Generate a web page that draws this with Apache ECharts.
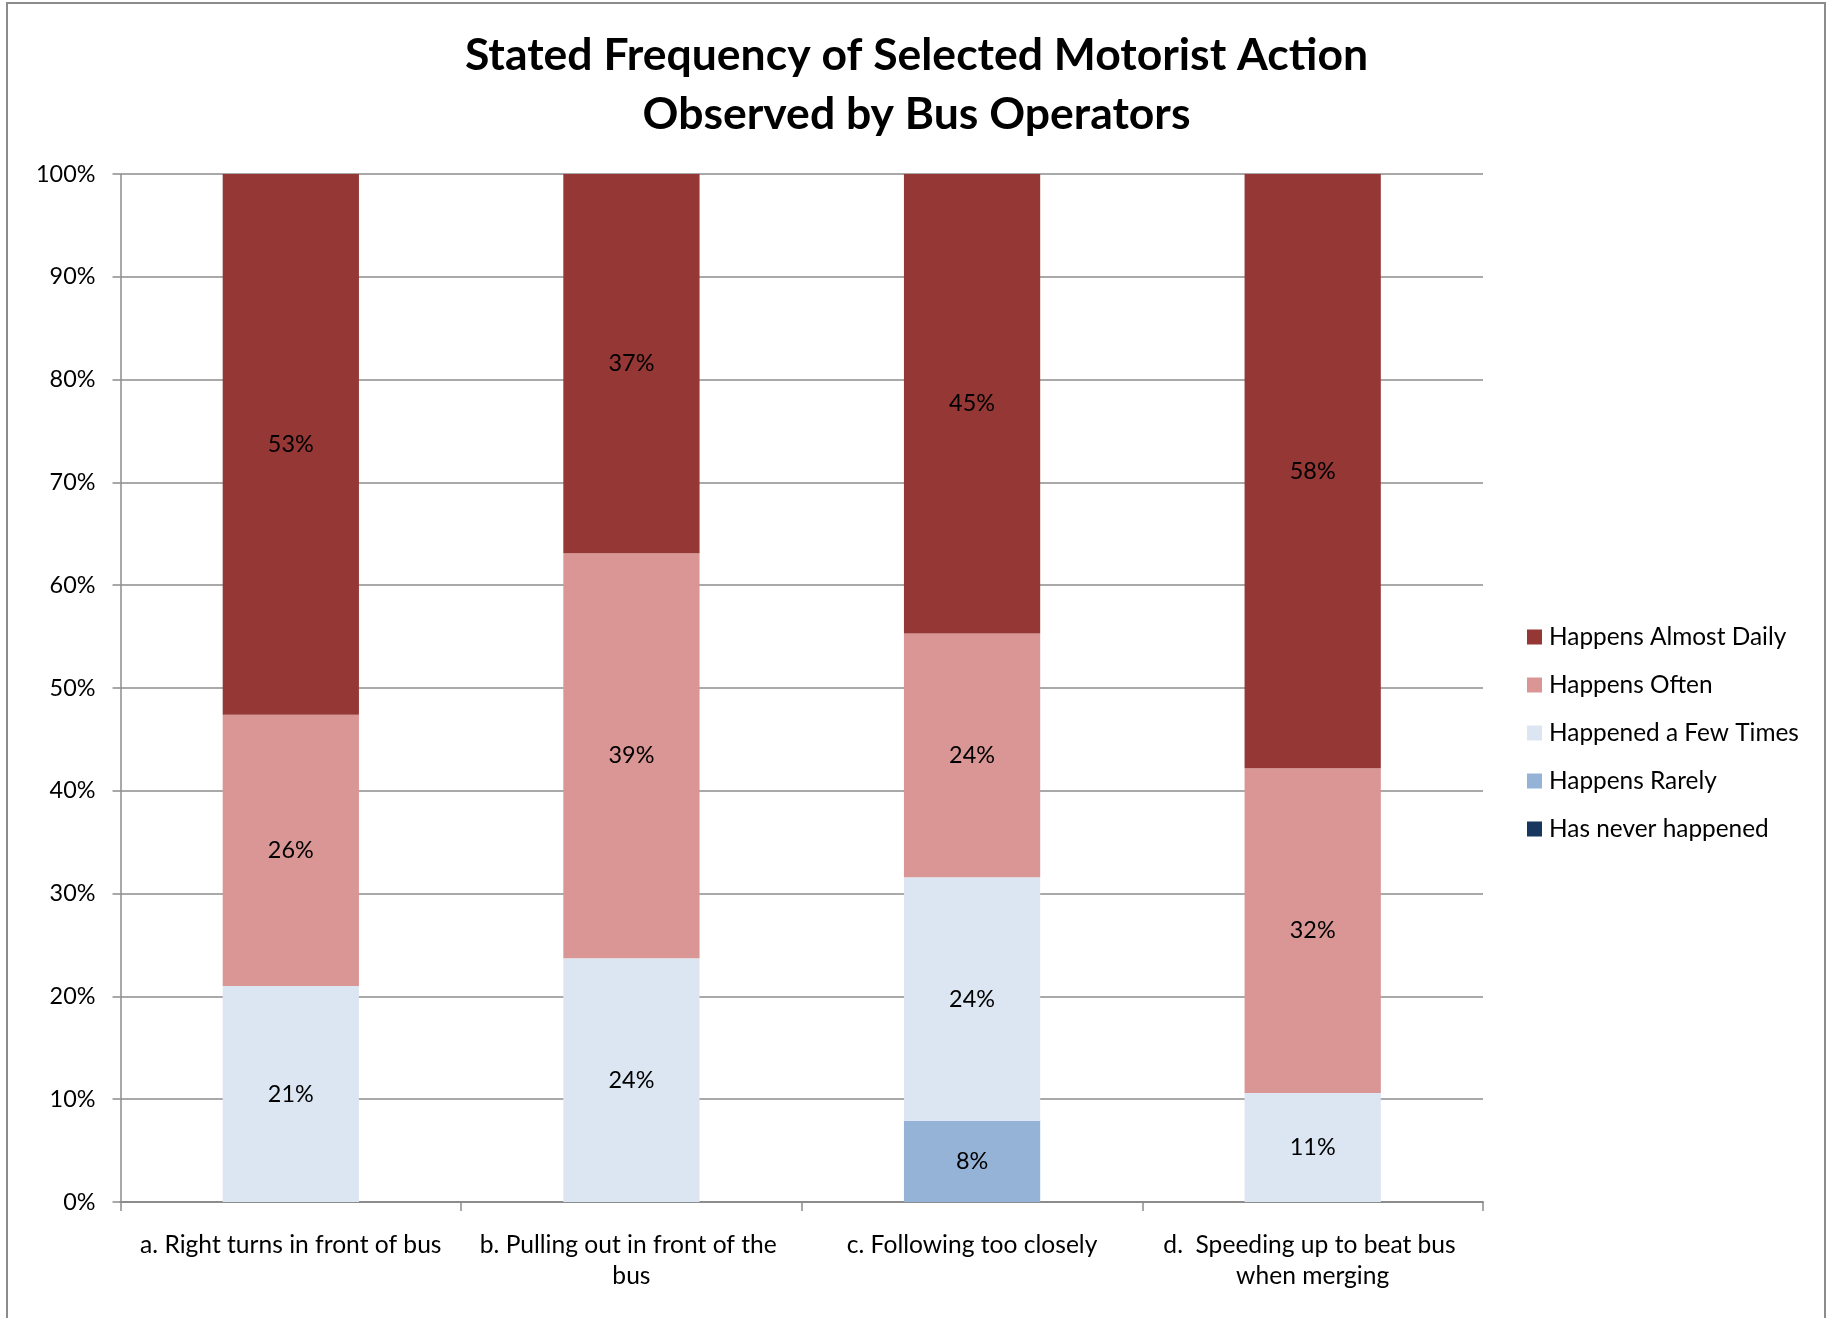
<!DOCTYPE html>
<html>
<head>
<meta charset="utf-8">
<script src="https://cdn.jsdelivr.net/npm/echarts@6/dist/echarts.min.js"></script>
<style>html,body{margin:0;padding:0;background:#fff;}#c{width:1833px;height:1318px;}</style>
</head>
<body>
<div id="c"></div>
<script>
const titleText = 'Stated Frequency of Selected Motorist Action\nObserved by Bus Operators';
const categories = ['a. Right turns in front of bus', 'b. Pulling out in front of the bus', 'c. Following too closely', 'd.  Speeding up to beat bus when merging'];
const yTicks = [0, 10, 20, 30, 40, 50, 60, 70, 80, 90, 100];
const neverHappened = [0, 0, 0, 0];
const happensRarely = [0, 0, 7.9, 0];
const happenedFewTimes = [21.0, 23.7, 23.7, 10.6];
const happensOften = [26.4, 39.4, 23.7, 31.6];
const happensAlmostDaily = [52.6, 36.9, 44.7, 57.8];
const seriesNames = ['Has never happened', 'Happens Rarely', 'Happened a Few Times', 'Happens Often', 'Happens Almost Daily'];
const seriesColors = ['#17375E', '#95B3D7', '#DCE6F2', '#D99694', '#953735'];
const legendOrder = ['Happens Almost Daily', 'Happens Often', 'Happened a Few Times', 'Happens Rarely', 'Has never happened'];

const FONT = 'Lato';
const seriesData = [neverHappened, happensRarely, happenedFewTimes, happensOften, happensAlmostDaily];
const chart = echarts.init(document.getElementById('c'), null, {renderer: 'canvas'});
chart.setOption({
  backgroundColor: '#fff',
  animation: false,
  textStyle: {fontFamily: FONT},
  title: {
    text: titleText,
    left: 'center',
    top: 26,
    padding: 0,
    textStyle: {fontFamily: FONT, fontSize: 44.5, fontWeight: 'bold', color: '#000', lineHeight: 59}
  },
  graphic: [{
    type: 'rect',
    shape: {x: 7, y: 3, width: 1818, height: 1330},
    style: {fill: 'none', stroke: '#8c8c8c', lineWidth: 2},
    silent: true
  }],
  legend: {
    orient: 'vertical',
    left: 1522,
    top: 619,
    itemWidth: 15,
    itemHeight: 15,
    itemGap: 22,
    icon: 'rect',
    data: legendOrder,
    textStyle: {fontFamily: FONT, fontSize: 24.4, color: '#000', lineHeight: 26, padding: [0, 0, 0, 2]}
  },
  grid: {left: 120.5, right: 350, top: 174, bottom: 116, containLabel: false},
  xAxis: {
    type: 'category',
    data: categories,
    axisLine: {lineStyle: {color: '#8c8c8c', width: 2}},
    axisTick: {show: true, length: 9, lineStyle: {color: '#8c8c8c', width: 1.5}},
    axisLabel: {
      color: '#000', fontFamily: FONT, fontSize: 24.6, margin: 28, lineHeight: 31,
      interval: 0, width: 325, overflow: 'break'
    }
  },
  yAxis: {
    type: 'value',
    min: 0, max: 100, interval: 10,
    axisLine: {show: true, lineStyle: {color: '#8c8c8c', width: 1.5}},
    axisTick: {show: true, length: 8, lineStyle: {color: '#8c8c8c', width: 1.5}},
    splitLine: {show: true, lineStyle: {color: '#8c8c8c', width: 1.5}},
    axisLabel: {
      color: '#000', fontFamily: FONT, fontSize: 23.4, margin: 25,
      formatter: function (v) { return yTicks.indexOf(v) >= 0 ? v + '%' : ''; }
    }
  },
  series: seriesNames.map(function (name, i) {
    return {
      name: name,
      type: 'bar',
      stack: 'total',
      barWidth: '40%',
      data: seriesData[i],
      itemStyle: {color: seriesColors[i]},
      label: {
        show: true,
        position: 'inside',
        color: '#000',
        fontFamily: FONT,
        fontSize: 23.4,
        formatter: function (p) { return p.value > 0 ? Math.round(p.value) + '%' : ''; }
      }
    };
  })
});
</script>
</body>
</html>
